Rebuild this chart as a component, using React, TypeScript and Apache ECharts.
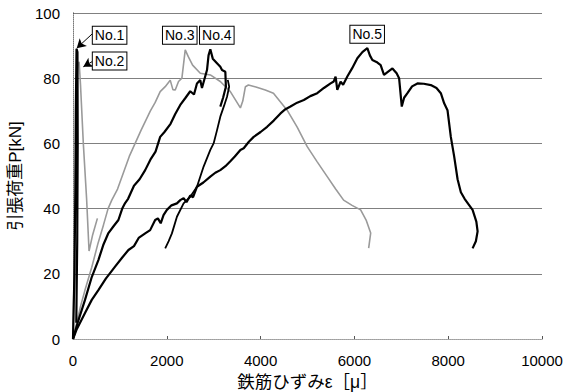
import React, { useEffect, useRef } from "react";
import * as echarts from "echarts";

const xTicks = [0, 2000, 4000, 6000, 8000, 10000];
const yTicks = [0, 20, 40, 60, 80, 100];

const no1: number[][] = [[0,0],[30,20],[50,45],[60,70],[75,89],[95,88],[100,60],[90,30],[70,5]];
const no2: number[][] = [[0,0],[30,25],[60,55],[80,75],[100,84],[130,85],[160,78],[220,60],[290,43],[342,27],[420,32],[520,37]];
const no3: number[][] = [[0,0],[80,5],[160,10],[256,15],[400,22],[534,29.4],[650,35],[748,40],[827,42.6],[950,46],[1100,52],[1200,56],[1325,60],[1450,64],[1550,67],[1650,70],[1750,72.5],[1859,75.9],[1966,77.4],[2073,79.4],[2130,76.5],[2180,76.4],[2250,79],[2322,80],[2393,88.7],[2458,86.6],[2550,84],[2714,81.5],[2928,81],[3141,79],[3355,75.9],[3569,70.9],[3620,73],[3676,77.4],[3740,77.9],[3900,77.3],[4100,76.4],[4274,75.4],[4566,70.2],[4780,65],[4994,59],[5200,54.5],[5421,49.8],[5600,46],[5770,42.6],[5950,41],[6133,39.6],[6250,36.5],[6347,32.5],[6304,27.9]];
const no4: number[][] = [[0,0],[100,5],[256,12],[400,19],[541,24.2],[650,29],[755,32.5],[860,34.5],[968,36.5],[1050,40],[1111,41.7],[1175,43],[1300,47],[1420,49],[1539,51.8],[1650,55],[1760,57.5],[1859,62],[1950,63.5],[2080,66],[2180,69],[2287,71.8],[2400,74],[2500,76],[2580,75],[2643,78.4],[2714,79.4],[2750,77],[2857,82.5],[2890,87],[2928,88.9],[2980,86],[3070,84.6],[3141,83.5],[3177,82.5],[3248,82],[3260,77.4],[3200,74],[3141,71.3]];
const no4b: number[][] = [[1966,27.8],[2040,30],[2109,32.4],[2216,37.5],[2358,41.6],[2500,43.6],[2643,46.7],[2785,52.9],[2928,58],[2998,60],[3070,64],[3141,68.2],[3220,71.5],[3284,74.3],[3330,77.4],[3300,79.5]];
const no5: number[][] = [[0,0],[80,3],[256,8],[400,12],[541,15],[700,18.5],[897,22.2],[1050,25],[1182,27.3],[1300,28.5],[1400,31],[1539,32.4],[1645,33.4],[1752,36.5],[1810,37],[1870,35.5],[1930,38],[2002,39.6],[2100,41],[2216,41.6],[2287,42.6],[2358,43.2],[2420,42],[2500,44],[2560,43.5],[2643,46.7],[2780,48],[2928,49.8],[3034,51],[3141,51.8],[3250,53],[3355,54.5],[3450,56],[3569,58],[3640,58.5],[3750,60.5],[3853,62],[4000,63.5],[4139,65.1],[4280,67],[4424,69.2],[4530,70.5],[4637,71.3],[4780,72.5],[4922,73.3],[5060,74.5],[5208,75.4],[5350,77],[5492,78.4],[5560,79],[5599,80.5],[5635,76.4],[5706,78.9],[5760,78],[5849,80.5],[5950,83],[6063,86.1],[6170,88],[6276,89.2],[6330,87],[6383,85.6],[6470,85],[6560,84],[6631,81],[6720,82],[6811,83],[6900,81.5],[6953,80],[7010,71.3],[7060,74],[7131,75.4],[7230,77.5],[7344,78.4],[7480,78.3],[7629,77.9],[7750,77],[7843,75.4],[7914,72.3],[7985,70.2],[8056,62],[8127,56],[8200,49],[8270,45],[8350,43],[8450,41],[8520,39.6],[8600,36],[8627,33],[8590,30],[8520,27.8]];

// annotation boxes: [x, y, text]
const labels: (number | string)[][] = [
  [791, 93, "No.1"],
  [791, 85.1, "No.2"],
  [2287, 93, "No.3"],
  [3077, 93, "No.4"],
  [6283, 93.3, "No.5"],
];
// arrows: from box edge to curve point
const arrows: number[][][] = [
  [[410, 93.6], [79, 89.2]],
  [[410, 85.1], [220, 83.5]],
];

const FONT = "Arial, 'Liberation Sans', 'Noto Sans CJK JP', sans-serif";

export default function App() {
  const ref = useRef<HTMLDivElement>(null);
  useEffect(() => {
    if (!ref.current) return;
    const chart = echarts.init(ref.current, null, { renderer: "svg" });
    const black = { color: "#000", width: 2.2 };
    const gray = { color: "#9a9a9a", width: 1.6 };
    const mkLine = (name: string, data: number[][], ls: any, extra: any = {}) => ({
      name,
      type: "line",
      data,
      showSymbol: false,
      symbol: "none",
      lineStyle: ls,
      itemStyle: { color: ls.color },
      z: 3,
      ...extra,
    });
    chart.setOption({
      animation: false,
      textStyle: { fontFamily: FONT },
      grid: { left: 73, right: 36, top: 13, bottom: 53, outerBoundsMode: "none", containLabel: false },
      xAxis: [
        {
          type: "value",
          min: 0,
          max: 10000,
          interval: 2000,
          axisLine: { show: true, lineStyle: { color: "#888", width: 1 } },
          axisTick: { show: true, inside: true, length: 3, lineStyle: { color: "#555" } },
          axisLabel: { color: "#000", fontSize: 15, margin: 14, fontFamily: FONT, formatter: (v: number) => (xTicks.includes(v) ? String(v) : "") },
          splitLine: { show: false },
          name: "鉄筋ひずみε［μ］",
          nameLocation: "middle",
          nameGap: 30,
          nameTextStyle: { color: "#000", fontSize: 17.5, fontFamily: FONT },
        },
        {
          type: "value",
          position: "top",
          min: 0,
          max: 10000,
          interval: 2000,
          axisLine: { show: true, lineStyle: { color: "#aaa", width: 1, type: "dotted" } },
          axisTick: { show: false },
          axisLabel: { show: false },
          splitLine: { show: false },
        },
      ],
      yAxis: [
        {
          type: "value",
          min: 0,
          max: 100,
          interval: 20,
          axisLine: { show: true, lineStyle: { color: "#222", width: 1 } },
          axisTick: { show: false },
          axisLabel: { color: "#000", fontSize: 15, margin: 13, fontFamily: FONT, formatter: (v: number) => (yTicks.includes(v) ? String(v) : "") },
          splitLine: { show: true, lineStyle: { color: "#808080", width: 1 } },
          name: "引張荷重P[kN]",
          nameLocation: "middle",
          nameGap: 40,
          nameRotate: 90,
          nameTextStyle: { color: "#000", fontSize: 17, fontFamily: FONT },
        },
        {
          type: "value",
          position: "right",
          min: 0,
          max: 100,
          interval: 20,
          axisLine: { show: true, lineStyle: { color: "#aaa", width: 1, type: "dotted" } },
          axisTick: { show: false },
          axisLabel: { show: false },
          splitLine: { show: false },
        },
      ],
      series: [
        mkLine("No.3", no3, gray),
        mkLine("No.2", no2, gray),
        mkLine("No.5", no5, black),
        mkLine("No.4b", no4b, { color: "#000", width: 1.8 }),
        mkLine("No.4", no4, black),
        mkLine("No.1", no1, black, {
          markLine: {
            silent: true,
            symbol: ["none", "arrow"],
            symbolSize: [8, 9],
            label: { show: false },
            lineStyle: { color: "#000", width: 1, type: "solid", opacity: 1 },
            data: arrows.map((a) => [{ coord: a[0] }, { coord: a[1] }]),
          },
        }),
        {
          name: "labels",
          type: "scatter",
          data: labels,
          symbol: "rect",
          symbolSize: 1,
          itemStyle: { color: "#fff", opacity: 0 },
          z: 10,
          label: {
            show: true,
            position: [0, 0],
            align: "center",
            verticalAlign: "middle",
            formatter: (p: any) => p.data[2],
            color: "#000",
            opacity: 1,
            fontSize: 14,
            fontFamily: FONT,
            backgroundColor: "#fff",
            borderColor: "#000",
            borderWidth: 1,
            padding: [2, 2, 1, 2],
          },
        },
      ],
    });
    return () => chart.dispose();
  }, []);
  return <div ref={ref} style={{ position: "fixed", left: 0, top: 0, width: 578, height: 392, background: "#fff" }} />;
}
